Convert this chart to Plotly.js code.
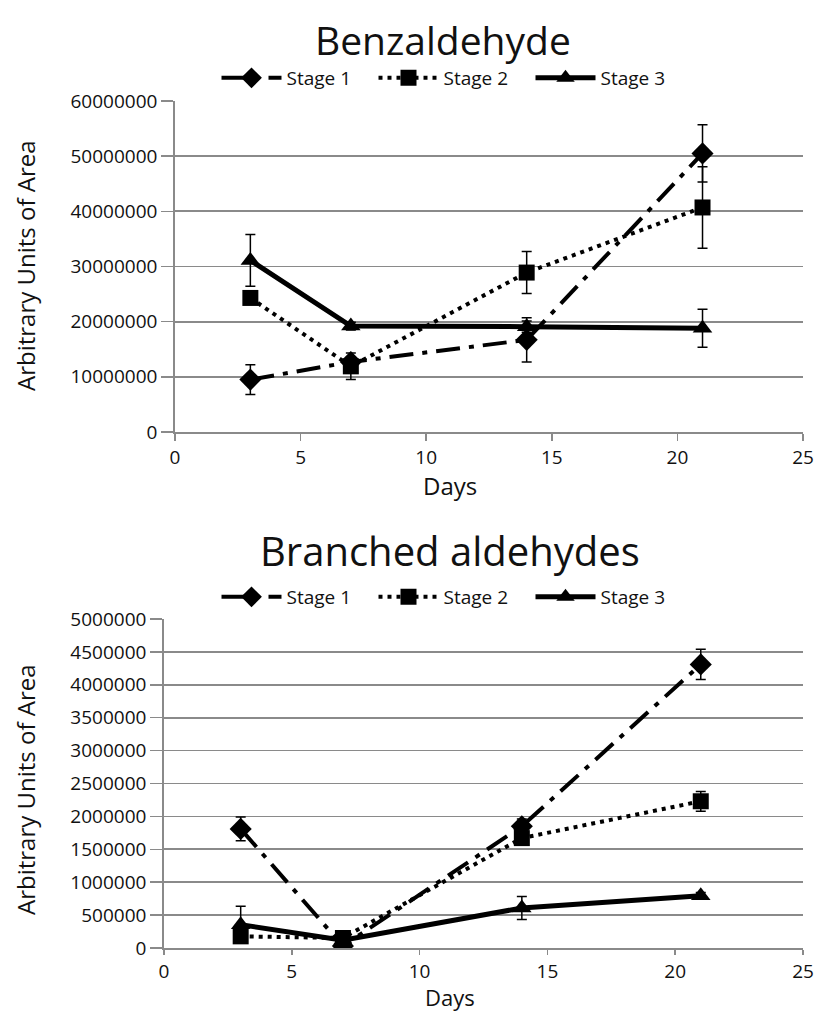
<!DOCTYPE html>
<html><head><meta charset="utf-8">
<script src="https://cdn.plot.ly/plotly-3.0.1.min.js"></script>
<style>body{margin:0;background:#fff}#c{width:816px;height:1011px}</style>
</head><body><div id="c"></div>
<script>
const days = [3, 7, 14, 21];
const seriesNames = ['Stage 1', 'Stage 2', 'Stage 3'];

const benzS1 = [9500000, 12700000, 16700000, 50500000];
const benzS1Err = [2700000, 900000, 4000000, 5200000];
const benzS2 = [24300000, 11900000, 28900000, 40700000];
const benzS2Err = [700000, 2400000, 3800000, 7400000];
const benzS3 = [31100000, 19200000, 19100000, 18800000];
const benzS3Err = [4700000, 700000, 1000000, 3450000];

const branS1 = [1810000, 30000, 1850000, 4310000];
const branS1Err = [180000, 30000, 110000, 230000];
const branS2 = [177000, 152000, 1670000, 2230000];
const branS2Err = [40000, 40000, 100000, 150000];
const branS3 = [355000, 117000, 608000, 795000];
const branS3Err = [280000, 30000, 175000, 50000];

const xTicks = [0, 5, 10, 15, 20, 25];
const benzTicks = [0, 10000000, 20000000, 30000000, 40000000, 50000000, 60000000];
const branTicks = [0, 500000, 1000000, 1500000, 2000000, 2500000, 3000000, 3500000, 4000000, 4500000, 5000000];

const FONT = 'Open Sans, Liberation Sans, sans-serif';
const styles = [
  {dash: '24px,9px,5px,9px', width: 4, symbol: 'diamond', size: 17},
  {dash: '4px,5px', width: 4, symbol: 'square', size: 16},
  {dash: 'solid', width: 5, symbol: 'triangle-up', size: 17}
];

function mk(i, y, err, xa, ya, lg) {
  const s = styles[i];
  return {
    x: days, y: y, name: seriesNames[i], type: 'scatter', mode: 'lines+markers',
    xaxis: xa, yaxis: ya, legend: lg,
    line: {color: '#000', width: s.width, dash: s.dash},
    marker: {color: '#000', symbol: s.symbol, size: s.size},
    error_y: {type: 'data', array: err, visible: true, color: '#000', thickness: 1.5, width: 5}
  };
}

const data = [
  mk(0, benzS1, benzS1Err, 'x', 'y', 'legend'),
  mk(1, benzS2, benzS2Err, 'x', 'y', 'legend'),
  mk(2, benzS3, benzS3Err, 'x', 'y', 'legend'),
  mk(0, branS1, branS1Err, 'x2', 'y2', 'legend2'),
  mk(1, branS2, branS2Err, 'x2', 'y2', 'legend2'),
  mk(2, branS3, branS3Err, 'x2', 'y2', 'legend2')
];

const W = 816, H = 1011;
const px = v => v / W, py = v => 1 - v / H;

const axBase = {
  showline: true, linecolor: '#8a8a8a', linewidth: 1.8,
  gridcolor: '#8a8a8a', gridwidth: 1.8, zeroline: false,
  ticks: 'outside', tickcolor: '#8a8a8a', tickwidth: 1.5,
  tickfont: {family: FONT, size: 19, color: '#111'}
};

const legBase = {orientation: 'h', xanchor: 'center', yanchor: 'middle',
  font: {family: FONT, size: 19, color: '#111'}, bgcolor: 'rgba(0,0,0,0)',
  itemwidth: 60, entrywidth: 82, entrywidthmode: 'pixels', tracegroupgap: 0};

const layout = {
  width: W, height: H, margin: {l: 0, r: 0, t: 0, b: 0},
  paper_bgcolor: '#fff', plot_bgcolor: '#fff', showlegend: true,
  font: {family: FONT, color: '#111'},
  xaxis: Object.assign({}, axBase, {domain: [px(175), px(803)], range: [0, 25], tickvals: xTicks, showgrid: false, ticklen: 7, anchor: 'y'}),
  yaxis: Object.assign({}, axBase, {domain: [py(432), py(101)], range: [0, 60000000], tickvals: benzTicks, tickformat: 'd', showgrid: true, ticklen: 12, anchor: 'x'}),
  xaxis2: Object.assign({}, axBase, {domain: [px(164), px(803)], range: [0, 25], tickvals: xTicks, showgrid: false, ticklen: 5, anchor: 'y2'}),
  yaxis2: Object.assign({}, axBase, {domain: [py(948), py(619)], range: [0, 5000000], tickvals: branTicks, tickformat: 'd', showgrid: true, ticklen: 12, anchor: 'x2'}),
  legend: Object.assign({}, legBase, {x: px(452), y: py(78)}),
  legend2: Object.assign({}, legBase, {x: px(452), y: py(597)}),
  annotations: [
    {text: 'Benzaldehyde', xref: 'paper', yref: 'paper', x: px(443), y: py(39), xanchor: 'center', yanchor: 'middle', showarrow: false, font: {family: FONT, size: 39, color: '#111'}},
    {text: 'Branched aldehydes', xref: 'paper', yref: 'paper', x: px(450), y: py(550), xanchor: 'center', yanchor: 'middle', showarrow: false, font: {family: FONT, size: 40, color: '#111'}},
    {text: 'Days', xref: 'paper', yref: 'paper', x: px(450), y: py(486), xanchor: 'center', yanchor: 'middle', showarrow: false, font: {family: FONT, size: 24, color: '#111'}},
    {text: 'Days', xref: 'paper', yref: 'paper', x: px(450), y: py(996.5), xanchor: 'center', yanchor: 'middle', showarrow: false, font: {family: FONT, size: 22, color: '#111'}},
    {text: 'Arbitrary Units of Area', xref: 'paper', yref: 'paper', x: px(25), y: py(266), xanchor: 'center', yanchor: 'middle', textangle: -90, showarrow: false, font: {family: FONT, size: 24, color: '#111'}},
    {text: 'Arbitrary Units of Area', xref: 'paper', yref: 'paper', x: px(25), y: py(790), xanchor: 'center', yanchor: 'middle', textangle: -90, showarrow: false, font: {family: FONT, size: 24, color: '#111'}}
  ]
};

Plotly.newPlot('c', data, layout, {displayModeBar: false, staticPlot: true});
</script></body></html>
